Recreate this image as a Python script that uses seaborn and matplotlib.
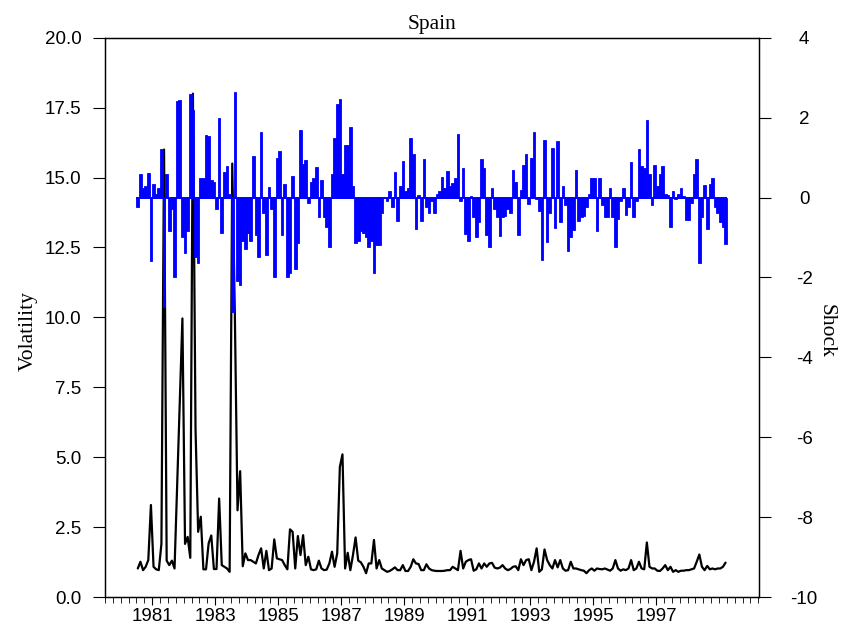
import numpy as np
import pandas as pd
import matplotlib
matplotlib.use("Agg")
import matplotlib.pyplot as plt
import seaborn as sns
from matplotlib.ticker import MultipleLocator, FixedLocator

# Monthly series, starting July 1980
start_year = 1980.5

shock = [
    -0.25, 0.58, 0.25, 0.30, 0.62, -1.60, 0.35, 0.10, 0.23, 1.22,
    -2.75, 0.60, -0.85, -0.30, -2.00, 2.42, 2.43, -1.00, -1.40, -0.85,
    2.60, 2.20, -1.50, -1.65, 0.50, 0.50, 1.57, 1.55, 0.45, 0.40,
    -0.30, 2.00, -0.90, 0.65, 0.80, 0.10, -2.87, 2.65, -2.10, -2.20,
    -1.10, -1.30, -0.90, -1.10, 1.05, -0.93, -1.48, 1.65, -0.38, -1.43,
    0.27, -0.28, -2.00, 1.00, 1.17, -0.95, 0.33, -2.00, -1.90, 0.55,
    -1.80, -1.15, 1.68, 0.83, 0.93, -0.13, 0.40, 0.48, 0.77, -0.50,
    0.43, -0.50, -0.75, -1.23, 0.60, 1.48, 2.35, 2.46, 0.60, 1.32,
    1.32, 1.76, 0.30, -1.15, -1.10, -0.85, -0.90, -0.98, -1.25, -1.10,
    -1.90, -1.20, -1.20, -0.38, 0.00, -0.10, 0.17, -0.25, 0.64, -0.58,
    0.30, 0.92, 0.17, 0.23, 1.48, 1.08, -0.80, 0.06, -0.60, 0.97,
    -0.25, -0.40, -0.10, -0.40, 0.10, 0.17, 0.52, 0.25, 0.67, 0.30,
    0.37, 0.48, 1.58, -0.08, 0.75, -0.92, -1.08, 0.05, -0.50, -1.00,
    -0.62, 0.96, 0.73, -0.95, -1.25, 0.23, -0.30, -0.50, -0.96, -0.50,
    -0.46, -0.30, -0.40, 0.70, 0.40, -0.93, 0.18, 0.82, 1.10, -0.17,
    1.00, 1.65, -0.04, -0.33, -1.56, 1.44, -1.12, -0.38, 1.23, -0.77,
    1.42, -0.62, 0.28, -0.19, -1.35, -1.00, -0.82, 0.70, -0.60, -0.50,
    -0.46, -0.23, 0.08, 0.48, 0.48, -0.83, 0.48, -0.20, -0.50, -0.50,
    0.23, -0.50, -1.25, -0.54, -0.10, 0.25, -0.43, -0.23, 0.88, -0.50,
    -0.08, 1.21, 0.80, 0.73, 1.94, 0.60, -0.20, 0.82, 0.30, 0.60,
    0.78, 0.10, 0.07, -0.75, 0.17, -0.04, 0.08, 0.25, 0.04, -0.57,
    -0.57, -0.15, 0.60, 0.97, -1.65, -0.50, 0.32, -0.80, 0.33, 0.50,
    -0.25, -0.40, -0.62, -0.75, -1.17,
]

volatility = [
    1.02, 1.26, 0.96, 1.08, 1.32, 3.29, 1.08, 0.99, 0.96, 1.90,
    16.0, 1.30, 1.14, 1.30, 1.02, 4.00, 7.00, 9.96, 1.90, 2.15,
    1.40, 18.0, 6.00, 2.33, 2.87, 0.99, 0.99, 1.92, 2.20, 1.00,
    1.00, 3.52, 1.14, 1.08, 1.02, 0.90, 15.5, 10.0, 3.10, 4.50,
    1.10, 1.56, 1.32, 1.32, 1.26, 1.20, 1.50, 1.74, 1.02, 1.65,
    0.96, 1.02, 2.06, 1.38, 1.35, 1.32, 1.14, 0.99, 2.42, 2.33,
    1.02, 2.18, 1.50, 2.21, 1.14, 1.44, 0.99, 0.96, 0.99, 1.30,
    1.02, 0.96, 0.98, 1.20, 1.62, 1.08, 1.56, 4.65, 5.10, 1.02,
    1.58, 0.96, 1.50, 2.13, 1.30, 1.24, 1.08, 0.85, 1.20, 1.20,
    2.04, 1.02, 1.32, 1.02, 0.96, 0.90, 0.93, 0.99, 1.06, 0.96,
    0.96, 1.14, 0.93, 0.93, 1.08, 1.35, 1.20, 1.18, 0.96, 0.96,
    1.17, 1.02, 0.96, 0.94, 0.93, 0.93, 0.93, 0.94, 0.96, 0.96,
    1.08, 1.02, 0.96, 1.65, 1.02, 1.26, 1.32, 1.35, 0.94, 0.99,
    1.20, 1.02, 1.20, 1.08,
    1.20, 1.22, 1.05, 1.02, 1.05, 1.14, 1.02, 0.96, 1.00, 1.08,
    1.10, 0.96, 1.35, 1.14, 1.32, 1.35, 0.96, 1.26, 1.74, 0.90,
    0.99, 1.70, 1.32, 1.14, 1.02, 1.32, 1.06, 1.32, 1.02, 0.94,
    0.96, 1.26, 1.02, 1.02, 0.99, 0.96, 0.94, 0.85, 0.96, 1.02,
    0.94, 1.02, 1.00, 0.99, 1.02, 0.98,
    0.94, 1.02, 1.32, 1.02, 0.94, 0.99, 0.96, 1.02, 1.32, 0.96,
    1.02, 1.26, 1.02, 0.99, 1.95, 1.08, 1.02, 1.02, 0.94, 0.93,
    1.02, 1.14, 0.96, 1.08, 0.90, 0.96, 0.90, 0.94, 0.94, 0.96,
    0.96, 0.99, 1.02, 1.26, 1.52, 1.08, 0.96, 1.11, 0.99, 1.02,
    0.99, 1.02, 1.02, 1.08, 1.23,
]

year_labels = ["1981", "1983", "1985", "1987", "1989", "1991", "1993", "1995", "1997"]
vol_ticks = [0.0, 2.5, 5.0, 7.5, 10.0, 12.5, 15.0, 17.5, 20.0]
shock_ticks = [-10, -8, -6, -4, -2, 0, 2, 4]

n = min(len(shock), len(volatility))
month_start = start_year + np.arange(n) / 12.0
df = pd.DataFrame({
    "t": month_start + 1 / 24.0,
    "left": month_start,
    "shock": shock[:n],
    "volatility": volatility[:n],
})

sns.set_theme(style="white")
plt.rcParams["font.family"] = ["Liberation Sans", "DejaVu Sans"]
plt.rcParams.update({
    "text.color": "black",
    "axes.labelcolor": "black",
    "xtick.color": "black",
    "ytick.color": "black",
    "axes.edgecolor": "black",
})
serif = ["Liberation Serif", "DejaVu Serif"]

W, H = 846, 631
fig = plt.figure(figsize=(W / 100, H / 100), dpi=100)
ax = fig.add_axes([105 / W, 1 - 597 / H, (759 - 105) / W, (597 - 37.7) / H])

# Volatility line on the left axis
sns.lineplot(data=df, x="t", y="volatility", ax=ax, color="black", linewidth=1.6,
             estimator=None, sort=False)
ax.set_ylim(0, 20)
ax.set_xlim(1979.5, 2000.27)

# Shock bars on the right axis, drawn over the line
ax2 = ax.twinx()
ax2.bar(df["left"], df["shock"], width=1 / 12.0, align="edge", color="#0000ff",
        edgecolor="#0000ff", linewidth=0.6)
ax2.hlines(0, df["left"].iloc[0], df["left"].iloc[-1] + 1 / 12.0,
           color="#0000ff", linewidth=1.4)
ax2.set_ylim(-10, 4)

ax.set_title("Spain", fontsize=15.5, family=serif, pad=6, color="black")
ax.set_xlabel("")
ax.set_ylabel("")
ax2.set_ylabel("")
fig.text(28 / W, 1 - 331 / H, "Volatility", fontsize=15.5, family=serif,
         rotation=90, ha="center", va="center", color="black")
fig.text(826 / W, 1 - 331 / H, "Shock", fontsize=15.5, family=serif,
         rotation=270, ha="center", va="center", color="black")

ax.yaxis.set_major_locator(FixedLocator(vol_ticks))
ax.set_yticklabels([f"{v:.1f}" for v in vol_ticks])
ax2.yaxis.set_major_locator(FixedLocator(shock_ticks))
ax2.set_yticklabels([str(v) for v in shock_ticks])
for lab in ax2.get_yticklabels():
    lab.set_horizontalalignment("center")

label_years = [int(y) for y in year_labels]
ax.xaxis.set_major_locator(FixedLocator(label_years))
ax.set_xticklabels(year_labels)
ax.xaxis.set_minor_locator(MultipleLocator(0.25))

ax.tick_params(axis="y", which="major", direction="out", length=8.5, width=0.8,
               labelsize=13.5, pad=8.5, left=True, colors="black")
ax2.tick_params(axis="y", which="major", direction="out", length=8.5, width=0.8,
                labelsize=13.5, pad=24, right=True, colors="black")
ax.tick_params(axis="x", which="major", direction="out", length=6, width=0.8,
               labelsize=13.5, pad=2, bottom=True, colors="black")
ax.tick_params(axis="x", which="minor", direction="out", length=4, width=0.6,
               bottom=True, colors="black")

for a in (ax, ax2):
    for s in a.spines.values():
        s.set_color("black")
        s.set_linewidth(0.9)

ax.grid(False)
ax2.grid(False)
fig.savefig("out.png", dpi=100)
